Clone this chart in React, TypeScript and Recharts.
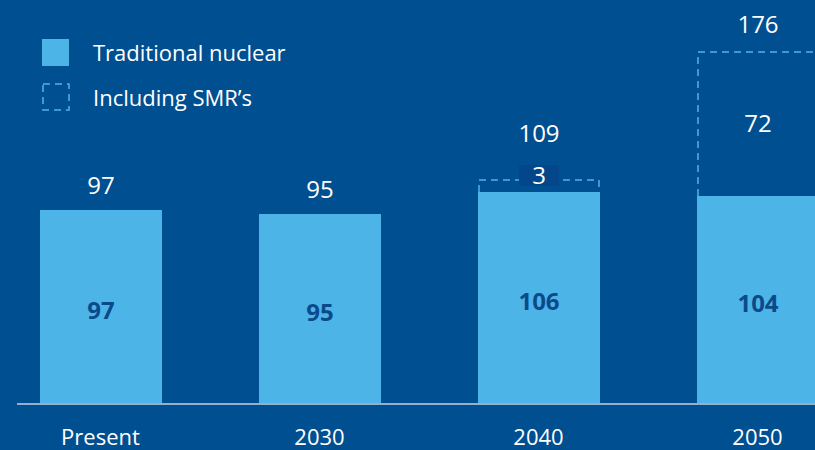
import { Bar, BarChart, LabelList, XAxis, YAxis } from "recharts";

const categories = ["Present", "2030", "2040", "2050"];
const traditional = [97, 95, 106, 104];
const smr = [null, null, 3, 72];
const totals = [97, 95, 109, 176];

const BG = "#004F91";
const LIGHT = "#4DB4E8";
const DARK = "#0B4A8A";
const FONT = "'Open Sans', sans-serif";

const data = categories.map((name, i) => ({
  name,
  traditional: traditional[i],
  smr: smr[i],
  total: totals[i],
}));

function DashedBox(props: any) {
  const { x, y, width, height, payload } = props;
  if (!height || payload?.smr == null) return null;
  const b = y + height;
  return (
    <path
      d={`M${x + 1},${b} L${x + 1},${y} L${x + width - 1},${y} L${x + width - 1},${b}`}
      fill="none"
      stroke={LIGHT}
      strokeWidth={1.5}
      strokeDasharray="7 5"
    />
  );
}

function SmrLabel(props: any) {
  const { x, y, width, height, value } = props;
  if (value == null) return null;
  const cx = x + width / 2;
  const small = height < 30;
  const total = data.find((d) => d.smr === value)?.total;
  return (
    <g fontFamily={FONT}>
      {small ? (
        <>
          <rect x={cx - 20} y={y - 15} width={40} height={21} fill="#03478A" />
          <text x={cx} y={y - 4} dy="0.35em" textAnchor="middle" fill="#fff" fontSize={24}>
            {value}
          </text>
          <text x={cx} y={y - 46} dy="0.35em" textAnchor="middle" fill="#fff" fontSize={24}>
            {total}
          </text>
        </>
      ) : (
        <>
          <text x={cx} y={y + height / 2} dy="0.35em" textAnchor="middle" fill="#fff" fontSize={24}>
            {value}
          </text>
          <text x={cx} y={y - 27} dy="0.35em" textAnchor="middle" fill="#fff" fontSize={24}>
            {total}
          </text>
        </>
      )}
    </g>
  );
}

function TradLabel(props: any) {
  const { x, y, width, height, value, index } = props;
  const cx = x + width / 2;
  const row = data[index];
  return (
    <g fontFamily={FONT}>
      <text x={cx} y={y + height / 2 + 4} dy="0.35em" textAnchor="middle" fill={DARK} fontSize={24} fontWeight={700}>
        {value}
      </text>
      {row && row.smr == null && (
        <text x={cx} y={y - 24} dy="0.35em" textAnchor="middle" fill="#fff" fontSize={24}>
          {row.total}
        </text>
      )}
    </g>
  );
}

function Tick(props: any) {
  const { x, y, payload } = props;
  return (
    <text x={x} y={y + 31} dy="0.35em" textAnchor="middle" fill="#fff" fontSize={22} fontFamily={FONT}>
      {payload.value}
    </text>
  );
}

export default function App() {
  return (
    <div
      style={{
        position: "absolute",
        left: 0,
        top: 0,
        width: 815,
        height: 450,
        overflow: "hidden",
        background: BG,
        fontFamily: FONT,
      }}
    >
      <div style={{ position: "absolute", left: -9, top: 0 }}>
        <BarChart width={876} height={450} data={data} margin={{ top: 0, right: 0, bottom: 0, left: 0 }} barCategoryGap={0}>
          <XAxis
            dataKey="name"
            axisLine={false}
            tickLine={false}
            tickSize={0}
            height={46}
            tick={<Tick />}
            interval={0}
          />
          <YAxis hide domain={[0, 202]} />
          <Bar dataKey="traditional" stackId="a" fill={LIGHT} barSize={122} isAnimationActive={false}>
            <LabelList dataKey="traditional" content={<TradLabel />} />
          </Bar>
          <Bar dataKey="smr" stackId="a" barSize={122} minPointSize={12} shape={<DashedBox />} isAnimationActive={false}>
            <LabelList dataKey="smr" content={<SmrLabel />} />
          </Bar>
        </BarChart>
      </div>
      <div style={{ position: "absolute", left: 17, top: 403, width: 798, height: 2, background: "#93AECF" }} />
      <div style={{ position: "absolute", left: 42, top: 39, width: 27, height: 27, background: LIGHT }} />
      <svg style={{ position: "absolute", left: 42, top: 83 }} width={28} height={28}>
        <rect x={1} y={1} width={26} height={26} fill="none" stroke={LIGHT} strokeWidth={1.5} strokeDasharray="7 5" />
      </svg>
      <div style={{ position: "absolute", left: 93, top: 37, color: "#fff", fontSize: 22, lineHeight: "30px" }}>
        Traditional nuclear
      </div>
      <div style={{ position: "absolute", left: 93, top: 82, color: "#fff", fontSize: 22, lineHeight: "30px" }}>
        Including SMR’s
      </div>
    </div>
  );
}
